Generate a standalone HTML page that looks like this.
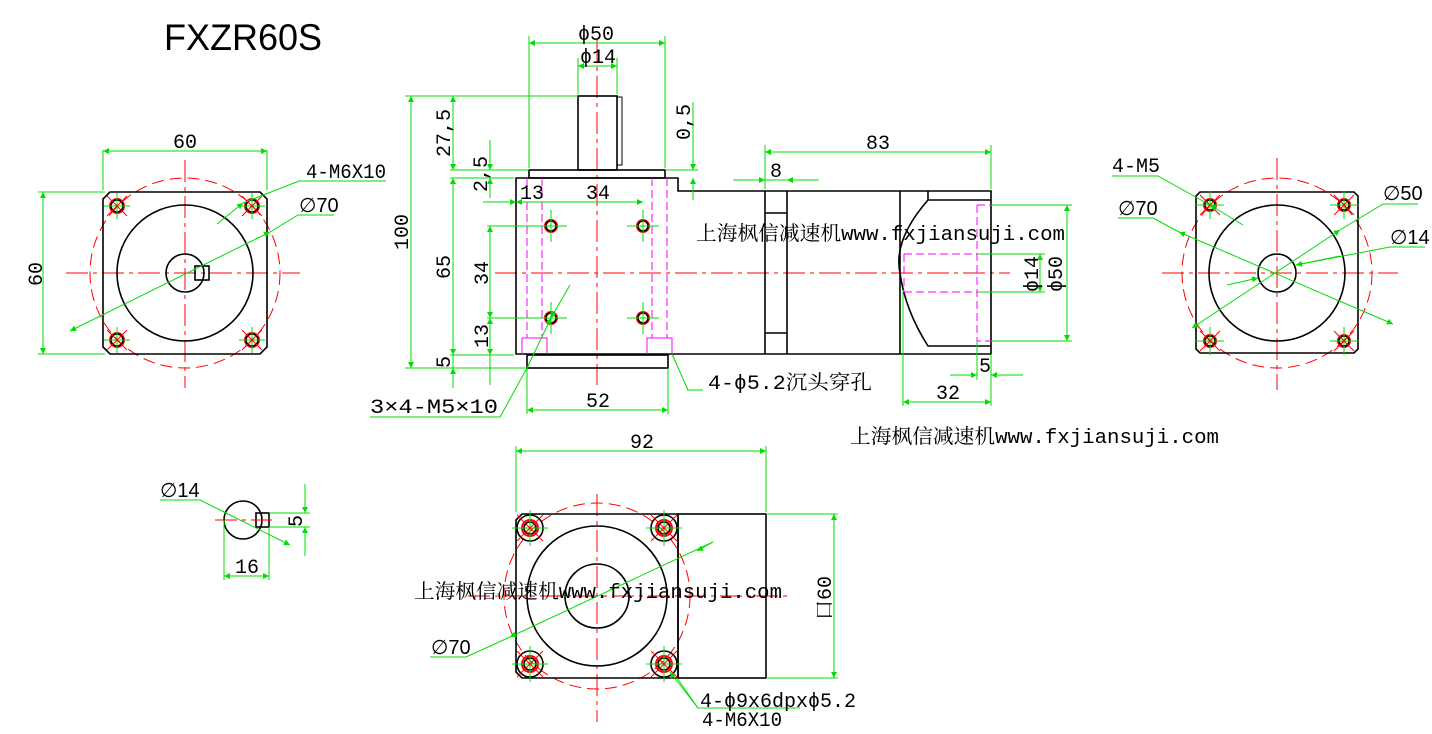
<!DOCTYPE html>
<html><head><meta charset="utf-8"><style>
html,body{margin:0;padding:0;background:#fff;}
svg{display:block;}
text{font-family:"Liberation Mono","Noto Serif CJK SC",monospace;font-size:20px;fill:#000;}
.k{stroke:#000;stroke-width:1.6;fill:none;}
.r{stroke:#f00;stroke-width:1;fill:none;stroke-dasharray:22,5,4,5;}
.rd{stroke:#f00;stroke-width:1;fill:none;stroke-dasharray:12,6;}
.g{stroke:#0d0;stroke-width:1;fill:none;}
.m{stroke:#f0f;stroke-width:1;fill:none;stroke-dasharray:8,4;}
.ms{stroke:#f0f;stroke-width:1;fill:none;}
.h{stroke:#000;stroke-width:1.6;fill:none;}
.hr{stroke:#f00;stroke-width:2;fill:none;}
.s{font-family:"Liberation Sans",sans-serif;}
</style></head><body>
<svg width="1432" height="734" viewBox="0 0 1432 734" xmlns="http://www.w3.org/2000/svg">
<defs>
<marker id="a" viewBox="0 0 10 10" refX="10" refY="5" markerWidth="16" markerHeight="6" markerUnits="userSpaceOnUse" orient="auto-start-reverse"><path d="M0,0L10,5L0,10z" fill="#0d0"/></marker>
</defs>

<text x="164" y="50" textLength="158" lengthAdjust="spacingAndGlyphs" style="font-family:'Liberation Sans',sans-serif;font-size:37px">FXZR60S</text>

<!-- LEFT VIEW -->
<g>
<line class="r" x1="185" y1="160" x2="185" y2="388"/>
<line class="r" x1="66" y1="273" x2="300" y2="273"/>
<circle class="rd" cx="185" cy="273" r="95"/>
<path class="k" d="M110,192H260L267,199V347L260,354H110L103,347V199Z"/>
<circle class="k" cx="185" cy="273" r="68"/>
<circle class="k" cx="185" cy="273" r="19"/>
<rect class="k" x="195" y="266" width="14" height="14" fill="#fff"/>
<g id="hl">
<circle class="hr" cx="117" cy="206" r="7"/><circle class="h" cx="117" cy="206" r="6"/>
<line class="g" x1="104" y1="206" x2="130" y2="206"/><line class="g" x1="117" y1="193" x2="117" y2="219"/>
<line stroke="#f00" x1="107" y1="196" x2="127" y2="216"/><line stroke="#f00" x1="127" y1="196" x2="107" y2="216"/>
</g>
<use href="#hl" x="135"/><use href="#hl" y="134"/><use href="#hl" x="135" y="134"/>
<line class="g" x1="103" y1="150" x2="103" y2="190"/><line class="g" x1="267" y1="150" x2="267" y2="190"/>
<line class="g" x1="103" y1="151" x2="267" y2="151" marker-start="url(#a)" marker-end="url(#a)"/>
<text x="173" y="148">60</text>
<line class="g" x1="38" y1="192" x2="105" y2="192"/><line class="g" x1="38" y1="354" x2="105" y2="354"/>
<line class="g" x1="43" y1="192" x2="43" y2="354" marker-start="url(#a)" marker-end="url(#a)"/>
<text transform="translate(42,286) rotate(-90)">60</text>
<polyline class="g" points="386,181 299,181 243,203" /><line class="g" x1="217" y1="224" x2="243" y2="203" marker-end="url(#a)"/>
<text x="306" y="178" textLength="80" lengthAdjust="spacingAndGlyphs">4-M6X10</text>
<polyline class="g" points="334,215 298,215 270,232"/><line class="g" x1="70" y1="331" x2="270" y2="232" marker-start="url(#a)" marker-end="url(#a)"/>
<text x="299" y="212" class="s">∅70</text>
</g>

<!-- MAIN VIEW -->
<g>
<line class="r" x1="597" y1="40" x2="597" y2="385"/>
<line class="r" x1="495" y1="273" x2="1010" y2="273"/>
<rect class="k" x="578" y="96" width="39" height="74"/>
<rect class="k" x="617" y="97" width="5" height="68" style="stroke-width:1"/>
<rect class="k" x="529" y="170" width="136" height="8"/>
<path class="k" d="M516,178H678V191H991V354H516Z"/>
<rect class="k" x="527" y="355" width="141" height="13"/>
<line class="k" x1="765" y1="191" x2="765" y2="354"/><line class="k" x1="787" y1="191" x2="787" y2="354"/>
<line class="k" x1="765" y1="213" x2="787" y2="213"/><line class="k" x1="765" y1="333" x2="787" y2="333"/>
<line class="k" x1="900" y1="191" x2="900" y2="354"/>
<path class="k" d="M928,191V200H991M928,200Q893,240 900,273Q905,310 928,346H991"/>
<line class="m" x1="527" y1="178" x2="527" y2="338"/><line class="m" x1="542" y1="178" x2="542" y2="338"/>
<line class="m" x1="652" y1="178" x2="652" y2="338"/><line class="m" x1="667" y1="178" x2="667" y2="338"/>
<path class="ms" d="M522,354V338H547V354M647,354V338H672V354"/>
<path class="m" d="M977,205H991M977,205V341H991M904,254H977M904,292H977M904,254V292"/>
<g id="hm">
<circle class="hr" cx="551" cy="226" r="6"/><circle class="h" cx="551" cy="226" r="5"/>
<line class="g" x1="535" y1="226" x2="567" y2="226"/><line class="g" x1="551" y1="210" x2="551" y2="242"/>
</g>
<use href="#hm" x="92"/><use href="#hm" y="92"/><use href="#hm" x="92" y="92"/>
<line class="g" x1="529" y1="36" x2="529" y2="168"/><line class="g" x1="665" y1="36" x2="665" y2="168"/>
<line class="g" x1="529" y1="43" x2="665" y2="43" marker-start="url(#a)" marker-end="url(#a)"/>
<text x="578" y="40">ϕ50</text>
<line class="g" x1="578" y1="58" x2="578" y2="94"/><line class="g" x1="617" y1="58" x2="617" y2="94"/>
<line class="g" x1="578" y1="66" x2="617" y2="66" marker-start="url(#a)" marker-end="url(#a)"/>
<text x="580" y="63">ϕ14</text>
<line class="g" x1="665" y1="170" x2="698" y2="170"/>
<line class="g" x1="693" y1="102" x2="693" y2="170" marker-end="url(#a)"/><line class="g" x1="693" y1="200" x2="693" y2="178" marker-end="url(#a)"/>
<text transform="translate(690,140) rotate(-90)">0,5</text>
<line class="g" x1="405" y1="96" x2="578" y2="96"/>
<line class="g" x1="450" y1="170" x2="529" y2="170"/><line class="g" x1="450" y1="178" x2="514" y2="178"/>
<line class="g" x1="450" y1="355" x2="514" y2="355"/><line class="g" x1="405" y1="368" x2="527" y2="368"/>
<line class="g" x1="411" y1="96" x2="411" y2="368" marker-start="url(#a)" marker-end="url(#a)"/>
<text transform="translate(408,250) rotate(-90)">100</text>
<line class="g" x1="453" y1="96" x2="453" y2="170" marker-start="url(#a)" marker-end="url(#a)"/>
<text transform="translate(450,157) rotate(-90)">27,5</text>
<line class="g" x1="453" y1="178" x2="453" y2="355" marker-start="url(#a)" marker-end="url(#a)"/>
<text transform="translate(450,279) rotate(-90)">65</text>
<line class="g" x1="453" y1="355" x2="453" y2="388"/><line class="g" x1="453" y1="385" x2="453" y2="368" marker-end="url(#a)"/>
<text transform="translate(450,368) rotate(-90)">5</text>
<line class="g" x1="490" y1="140" x2="490" y2="170" marker-end="url(#a)"/><line class="g" x1="490" y1="198" x2="490" y2="178" marker-end="url(#a)"/>
<text transform="translate(487,192) rotate(-90)">2,5</text>
<line class="g" x1="487" y1="226" x2="551" y2="226"/><line class="g" x1="487" y1="318" x2="551" y2="318"/>
<line class="g" x1="490" y1="226" x2="490" y2="318" marker-start="url(#a)" marker-end="url(#a)"/>
<text transform="translate(488,285) rotate(-90)">34</text>
<line class="g" x1="490" y1="318" x2="490" y2="355" marker-start="url(#a)" marker-end="url(#a)"/>
<line class="g" x1="490" y1="355" x2="490" y2="385"/>
<text transform="translate(488,348) rotate(-90)">13</text>
<line class="g" x1="483" y1="202" x2="516" y2="202" marker-end="url(#a)"/>
<line class="g" x1="516" y1="202" x2="643" y2="202" marker-start="url(#a)" marker-end="url(#a)"/>
<text x="520" y="199">13</text><text x="586" y="199">34</text>
<line class="g" x1="527" y1="368" x2="527" y2="414"/><line class="g" x1="668" y1="368" x2="668" y2="414"/>
<line class="g" x1="527" y1="410" x2="668" y2="410" marker-start="url(#a)" marker-end="url(#a)"/>
<text x="586" y="407">52</text>
<polyline class="g" points="370,417 500,417 527,368"/>
<line class="g" x1="570" y1="285" x2="551" y2="318" marker-end="url(#a)"/><line class="g" x1="527" y1="368" x2="551" y2="318" marker-end="url(#a)"/>
<text x="370" y="413" textLength="128" lengthAdjust="spacingAndGlyphs">3×4-M5×10</text>
<polyline class="g" points="672,354 688,390 703,390"/>
<text x="708" y="389" textLength="164" lengthAdjust="spacingAndGlyphs">4-ϕ5.2沉头穿孔</text>
<line class="g" x1="765" y1="145" x2="765" y2="189"/><line class="g" x1="991" y1="145" x2="991" y2="189"/>
<line class="g" x1="765" y1="152" x2="991" y2="152" marker-start="url(#a)" marker-end="url(#a)"/>
<text x="866" y="149">83</text>
<line class="g" x1="733" y1="180" x2="765" y2="180" marker-end="url(#a)"/><line class="g" x1="819" y1="180" x2="787" y2="180" marker-end="url(#a)"/>
<line class="g" x1="765" y1="180" x2="787" y2="180"/>
<text x="770" y="177">8</text>
<line class="g" x1="991" y1="205" x2="1072" y2="205"/><line class="g" x1="991" y1="341" x2="1072" y2="341"/>
<line class="g" x1="1067" y1="205" x2="1067" y2="341" marker-start="url(#a)" marker-end="url(#a)"/>
<line class="g" x1="977" y1="254" x2="1045" y2="254"/><line class="g" x1="977" y1="292" x2="1045" y2="292"/>
<line class="g" x1="1040" y1="254" x2="1040" y2="292" marker-start="url(#a)" marker-end="url(#a)"/>
<text transform="translate(1038,292) rotate(-90)">ϕ14</text>
<text transform="translate(1062,292) rotate(-90)">ϕ50</text>
<line class="g" x1="903" y1="290" x2="903" y2="406"/><line class="g" x1="991" y1="354" x2="991" y2="406"/>
<line class="g" x1="977" y1="341" x2="977" y2="380"/>
<line class="g" x1="903" y1="402" x2="991" y2="402" marker-start="url(#a)" marker-end="url(#a)"/>
<text x="936" y="399">32</text>
<line class="g" x1="950" y1="375" x2="977" y2="375" marker-end="url(#a)"/><line class="g" x1="1023" y1="375" x2="991" y2="375" marker-end="url(#a)"/>
<text x="979" y="372">5</text>
<text x="696" y="240" textLength="369" lengthAdjust="spacingAndGlyphs">上海枫信减速机www.fxjiansuji.com</text>
</g>

<text x="850" y="443" textLength="369" lengthAdjust="spacingAndGlyphs">上海枫信减速机www.fxjiansuji.com</text>

<!-- RIGHT VIEW -->
<g>
<line class="r" x1="1277" y1="158" x2="1277" y2="390"/>
<line class="r" x1="1162" y1="273" x2="1398" y2="273"/>
<circle class="rd" cx="1277" cy="273" r="95"/>
<path class="k" d="M1200,192H1354L1358,196V349L1354,353H1200L1196,349V196Z"/>
<circle class="k" cx="1277" cy="273" r="68"/>
<circle class="k" cx="1277" cy="273" r="19"/>
<g id="hr">
<circle class="hr" cx="1210" cy="205" r="6"/><circle class="h" cx="1210" cy="205" r="5"/>
<line class="g" x1="1196" y1="205" x2="1224" y2="205"/><line class="g" x1="1210" y1="191" x2="1210" y2="219"/>
<line stroke="#f00" x1="1200" y1="195" x2="1220" y2="215"/><line stroke="#f00" x1="1220" y1="195" x2="1200" y2="215"/>
</g>
<use href="#hr" x="134"/><use href="#hr" y="136"/><use href="#hr" x="134" y="136"/>
<polyline class="g" points="1112,176 1158,176 1210,205"/><line class="g" x1="1243" y1="225" x2="1210" y2="205" marker-end="url(#a)"/>
<text x="1112" y="172">4-M5</text>
<polyline class="g" points="1118,218 1153,218 1179,232"/><line class="g" x1="1179" y1="232" x2="1393" y2="324" marker-start="url(#a)" marker-end="url(#a)"/>
<text x="1118" y="215" class="s">∅70</text>
<polyline class="g" points="1418,204 1383,204 1340,230"/><line class="g" x1="1192" y1="328" x2="1340" y2="230" marker-start="url(#a)" marker-end="url(#a)"/>
<text x="1383" y="200" class="s">∅50</text>
<polyline class="g" points="1425,247 1390,247 1296,265"/><line class="g" x1="1227" y1="285" x2="1258" y2="278" marker-end="url(#a)"/>
<line class="g" x1="1340" y1="256" x2="1296" y2="265" marker-end="url(#a)"/>
<text x="1390" y="244" class="s">∅14</text>
</g>

<!-- SHAFT SECTION -->
<g>
<circle class="k" cx="243" cy="520" r="19"/>
<rect class="k" x="256" y="513" width="13" height="14" fill="#fff"/>
<line class="r" x1="215" y1="520" x2="272" y2="520"/>
<line class="g" x1="224" y1="520" x2="224" y2="580"/><line class="g" x1="269" y1="527" x2="269" y2="580"/>
<line class="g" x1="224" y1="576" x2="269" y2="576" marker-start="url(#a)" marker-end="url(#a)"/>
<text x="235" y="573">16</text>
<line class="g" x1="269" y1="513" x2="310" y2="513"/><line class="g" x1="269" y1="527" x2="310" y2="527"/>
<line class="g" x1="305" y1="484" x2="305" y2="513" marker-end="url(#a)"/><line class="g" x1="305" y1="556" x2="305" y2="527" marker-end="url(#a)"/>
<text transform="translate(302,527) rotate(-90)">5</text>
<polyline class="g" points="160,500 200,500 224,512"/><line class="g" x1="224" y1="512" x2="290" y2="545" marker-end="url(#a)"/>
<text x="160" y="497" class="s">∅14</text>
</g>

<!-- BOTTOM VIEW -->
<g>
<line class="r" x1="597" y1="494" x2="597" y2="722"/>
<line class="r" x1="468" y1="596" x2="792" y2="596"/>
<circle class="rd" cx="597" cy="596" r="93"/>
<path class="k" d="M522,514H678V678H522L516,672V520Z"/>
<rect class="k" x="678" y="514" width="88" height="164"/>
<circle class="k" cx="597" cy="596" r="70"/>
<circle class="k" cx="597" cy="596" r="32"/>
<g id="hb">
<circle class="h" cx="530" cy="528" r="13"/><circle class="hr" cx="530" cy="528" r="8"/><circle class="h" cx="530" cy="528" r="6"/>
<line class="g" x1="512" y1="528" x2="548" y2="528"/><line class="g" x1="530" y1="510" x2="530" y2="546"/>
<line stroke="#f00" x1="517" y1="515" x2="543" y2="541"/><line stroke="#f00" x1="543" y1="515" x2="517" y2="541"/>
</g>
<use href="#hb" x="134"/><use href="#hb" y="136"/><use href="#hb" x="134" y="136"/>
<line class="g" x1="516" y1="446" x2="516" y2="512"/><line class="g" x1="766" y1="446" x2="766" y2="512"/>
<line class="g" x1="516" y1="451" x2="766" y2="451" marker-start="url(#a)" marker-end="url(#a)"/>
<text x="630" y="448">92</text>
<line class="g" x1="766" y1="514" x2="838" y2="514"/><line class="g" x1="766" y1="678" x2="838" y2="678"/>
<line class="g" x1="834" y1="514" x2="834" y2="678" marker-start="url(#a)" marker-end="url(#a)"/>
<text transform="translate(831,620) rotate(-90)">口60</text>
<polyline class="g" points="430,657 466,657 510,637"/><line class="g" x1="510" y1="637" x2="713" y2="542" marker-start="url(#a)"/>
<line class="g" x1="713" y1="542" x2="697" y2="551" marker-end="url(#a)"/>
<text x="431" y="654" class="s">∅70</text>
<polyline class="g" points="677,678 698,708 800,708"/><line class="g" x1="698" y1="708" x2="670" y2="672" marker-end="url(#a)"/>
<text x="700" y="707" textLength="156" lengthAdjust="spacingAndGlyphs">4-ϕ9x6dpxϕ5.2</text>
<text x="702" y="726" textLength="80" lengthAdjust="spacingAndGlyphs">4-M6X10</text>
<text x="414" y="598" textLength="368" lengthAdjust="spacingAndGlyphs">上海枫信减速机www.fxjiansuji.com</text>
</g>
</svg>
</body></html>
